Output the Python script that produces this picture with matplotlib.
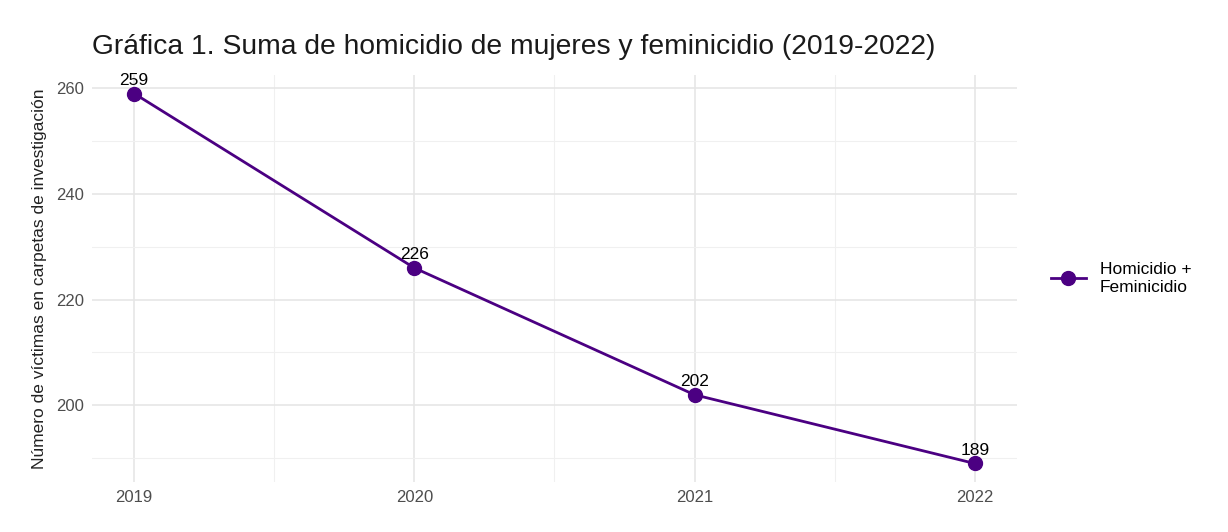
import matplotlib.pyplot as plt
from matplotlib.ticker import MultipleLocator

plt.rcParams['font.family'] = ['Liberation Sans', 'DejaVu Sans']

years = [2019, 2020, 2021, 2022]
victims = [259, 226, 202, 189]
series_label = "Homicidio +\nFeminicidio"
title = "Gráfica 1. Suma de homicidio de mujeres y feminicidio (2019-2022)"
ylabel = "Número de víctimas en carpetas de investigación"

color = "#4B0082"

fig = plt.figure(figsize=(12.28, 5.32), dpi=100)
ax = fig.add_axes([0.075, 0.094, 0.753, 0.765])

ax.plot(years, victims, color=color, linewidth=2, marker="o", markersize=10,
        label=series_label)
for x, y in zip(years, victims):
    ax.text(x, y + 1.1, str(y), ha="center", va="bottom", fontsize=12.5, color="black")

ax.set_xlim(2018.85, 2022.15)
ax.set_ylim(185.5, 262.5)
ax.set_xticks(years)
ax.yaxis.set_major_locator(MultipleLocator(20))
ax.yaxis.set_minor_locator(MultipleLocator(10))
ax.xaxis.set_minor_locator(MultipleLocator(0.5))

ax.grid(True, which="major", color="#E6E6E6", linewidth=1.2)
ax.grid(True, which="minor", color="#F0F0F0", linewidth=0.8)
ax.set_axisbelow(True)
for s in ax.spines.values():
    s.set_visible(False)
ax.tick_params(which="both", length=0, labelsize=12, labelcolor="#4D4D4D", pad=6)

ax.set_ylabel(ylabel, fontsize=12.5, color="#222222", labelpad=6)
fig.text(0.075, 0.912, title, fontsize=20.3, color="#1A1A1A", ha="left", va="center")

leg = ax.legend(loc="center left", bbox_to_anchor=(1.02, 0.5), frameon=False,
                fontsize=12.5, handlelength=2)

fig.savefig("out.png", dpi=100)
